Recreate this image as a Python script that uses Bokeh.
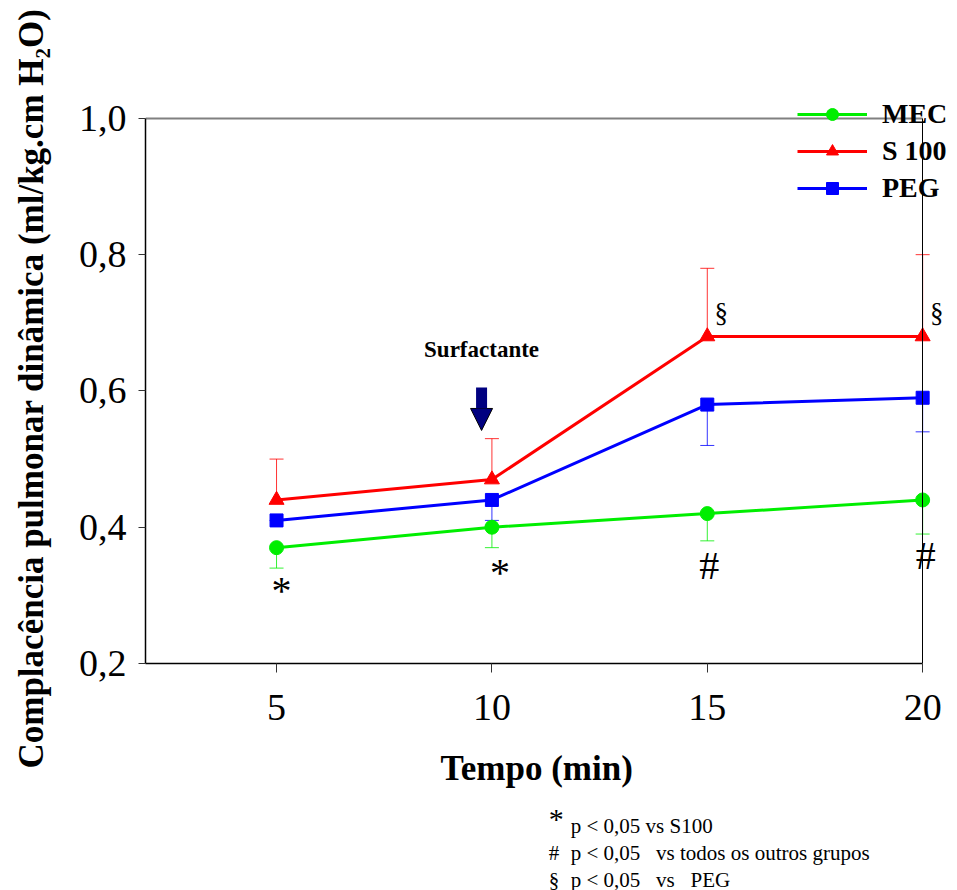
import math
from bokeh.plotting import figure
from bokeh.layouts import column, row
from bokeh.models import (ColumnDataSource, Whisker, TeeHead, Label, Legend,
                          LegendItem, FixedTicker, Arrow, NormalHead, Range1d, LinearAxis)
from bokeh.core.properties import value
from bokeh.embed import file_html
from bokeh.resources import INLINE

# ---- data ----
time = [5, 10, 15, 20]
mec = [0.37, 0.40, 0.42, 0.44]
mec_err = [0.03, 0.03, 0.04, 0.05]      # downward
s100 = [0.44, 0.47, 0.68, 0.68]
s100_err = [0.06, 0.06, 0.10, 0.12]     # upward
peg = [0.41, 0.44, 0.58, 0.59]
peg_err = [0.0, 0.03, 0.06, 0.05]       # downward

x_ticks = [5, 10, 15, 20]
y_ticks = [0.2, 0.4, 0.6, 0.8, 1.0]
y_tick_labels = ["0,2", "0,4", "0,6", "0,8", "1,0"]

sig_x = [5, 10, 15, 20]
sig_y = [0.307, 0.334, 0.344, 0.359]
sig_text = ["*", "*", "#", "#"]
sec_x = [15, 20]
sec_y = [0.714, 0.714]
sec_text = ["§", "§"]

arrow_x = 9.76
arrow_y = [0.605, 0.542]
surf_label_y = 0.661

y_title = "Complacência pulmonar dinâmica (ml/kg.cm H₂O)"
x_title = "Tempo (min)"
xlabel_pos = (11.04, 768)
NB = "\u00a0"
foot_sym = ["*", "#", "§"]
foot_sym_x = [11.32, 11.32, 11.32]
foot_text = ["p < 0,05 vs S100",
             "p < 0,05" + NB + NB + " vs todos os outros grupos",
             "p < 0,05" + NB + NB + " vs" + NB + NB + " PEG"]
foot_x = [11.83, 11.83, 11.83]
foot_y = [825, 852, 879]

FONT = "Liberation Serif"
GREEN = "#00ee00"
RED = "#ff0000"
BLUE = "#0000ff"
X0, X1 = 1.958, 20.6
Y0, Y1 = 0.2, 1.038
LEFTW = 62

# ---- left strip with the y title ----
pl = figure(width=LEFTW, height=890, output_backend="svg", toolbar_location=None,
            x_range=Range1d(0, LEFTW), y_range=Range1d(890, 0),
            min_border_left=0, min_border_right=0, min_border_top=0, min_border_bottom=0)
pl.axis.visible = False
pl.grid.visible = False
pl.outline_line_color = None
pl.add_layout(Label(x=31, y=388, text=y_title, angle=math.pi / 2, text_align="center",
                    text_baseline="middle", text_font=FONT, text_font_size="35px",
                    text_font_style="bold", text_color="black"))

# ---- main plot ----
p = figure(width=950 - LEFTW, height=740, output_backend="svg", toolbar_location=None,
           x_range=Range1d(X0, X1), y_range=Range1d(Y0, Y1),
           min_border_left=145 - LEFTW, min_border_right=2, min_border_top=92,
           min_border_bottom=77)
p.outline_line_color = None
p.xgrid.visible = False
p.ygrid.visible = False

src = ColumnDataSource(dict(
    t=time,
    mec=mec, mec_lo=[m - e for m, e in zip(mec, mec_err)],
    s100=s100, s100_hi=[s + e for s, e in zip(s100, s100_err)],
    peg=peg, peg_lo=[v - e for v, e in zip(peg, peg_err)],
))

# error bars (under the lines)
for lo, hi, col in [("mec_lo", "mec", GREEN), ("s100", "s100_hi", RED), ("peg_lo", "peg", BLUE)]:
    w = Whisker(source=src, base="t", lower=lo, upper=hi, level="underlay",
                line_color=col, line_width=1, line_alpha=0.8)
    if lo.endswith("_lo"):
        w.upper_head = None
        w.lower_head = TeeHead(size=14, line_color=col, line_width=1, line_alpha=0.8)
    else:
        w.lower_head = None
        w.upper_head = TeeHead(size=14, line_color=col, line_width=1, line_alpha=0.8)
    p.add_layout(w)

l_mec = p.line("t", "mec", source=src, line_color=GREEN, line_width=3)
m_mec = p.scatter("t", "mec", source=src, marker="circle", size=14,
                  fill_color=GREEN, line_color=GREEN)
l_s100 = p.line("t", "s100", source=src, line_color=RED, line_width=3)
m_s100 = p.scatter("t", "s100", source=src, marker="triangle", size=15,
                   fill_color=RED, line_color=RED)
l_peg = p.line("t", "peg", source=src, line_color=BLUE, line_width=3)
m_peg = p.scatter("t", "peg", source=src, marker="square", size=13,
                  fill_color=BLUE, line_color=BLUE)

# axes
p.xaxis.ticker = FixedTicker(ticks=x_ticks)
p.yaxis.ticker = FixedTicker(ticks=y_ticks)
p.yaxis.major_label_overrides = {t: l for t, l in zip(y_ticks, y_tick_labels)}
p.xaxis.bounds = (X0, 20)
p.yaxis.bounds = (0.2, 1.0)
for ax in (p.xaxis[0], p.yaxis[0]):
    ax.axis_line_color = "black"
    ax.axis_line_width = 1.5
    ax.major_tick_line_color = "#333333"
    ax.major_tick_out = 9
    ax.major_tick_in = 0
    ax.minor_tick_out = 0
    ax.minor_tick_in = 0
    ax.major_label_text_font = FONT
    ax.major_label_text_font_size = "38px"
    ax.major_label_text_color = "black"
p.yaxis.major_tick_out = 7
p.xaxis.major_label_standoff = 22
p.yaxis.major_label_standoff = 12

# frame top (gray) and right (black) borders
top_ax = LinearAxis(fixed_location=1.0, bounds=(X0 - 0.16, 20), ticker=FixedTicker(ticks=[]),
                    axis_line_color="#808080", axis_line_width=2,
                    major_tick_out=0, major_tick_in=0, minor_tick_out=0, minor_tick_in=0,
                    major_label_text_font_size="0px", major_label_standoff=0,
                    axis_label_standoff=0)
p.add_layout(top_ax, "above")
right_ax = LinearAxis(fixed_location=20, bounds=(0.2, 1.0), ticker=FixedTicker(ticks=[]),
                      axis_line_color="black", axis_line_width=1,
                      major_tick_out=0, major_tick_in=0, minor_tick_out=0, minor_tick_in=0,
                      major_label_text_font_size="0px", major_label_standoff=0,
                      axis_label_standoff=0)
p.add_layout(right_ax, "right")

# significance marks
p.text(x=sig_x, y=sig_y, text=sig_text, text_font=value(FONT), text_font_size="40px",
       text_align="center", text_baseline="middle", text_color="black",
       x_offset=[5, 8, 2, 3])
p.text(x=sec_x, y=sec_y, text=sec_text, text_font=value(FONT), text_font_size="27px",
       text_align="center", text_baseline="middle", text_color="black", x_offset=14)

# surfactant arrow
p.add_layout(Arrow(x_start=arrow_x, y_start=arrow_y[0], x_end=arrow_x, y_end=arrow_y[1],
                   line_color="#000080", line_width=11,
                   end=NormalHead(size=22, fill_color="#000080", line_color="black",
                                  line_width=1)))
p.add_layout(Label(x=arrow_x, y=surf_label_y, text="Surfactante", text_align="center",
                   text_baseline="middle", text_font=FONT, text_font_size="23px",
                   text_font_style="bold", text_color="black"))

# legend
legend = Legend(items=[LegendItem(label="MEC", renderers=[l_mec, m_mec]),
                       LegendItem(label="S 100", renderers=[l_s100, m_s100]),
                       LegendItem(label="PEG", renderers=[l_peg, m_peg])],
                location=(652, 459), margin=0, padding=0, spacing=5,
                glyph_width=70, glyph_height=30, label_height=30, label_standoff=15,
                label_text_font=FONT, label_text_font_style="bold",
                label_text_font_size="28px", label_text_color="black",
                border_line_color=None, background_fill_alpha=0)
p.add_layout(legend)

# ---- lower strip: x-axis title and footnotes ----
p2 = figure(width=950 - LEFTW, height=150, output_backend="svg", toolbar_location=None,
            x_range=p.x_range, y_range=Range1d(890, 740),
            min_border_left=145 - LEFTW, min_border_right=2, min_border_top=0,
            min_border_bottom=0)
p2.axis.visible = False
p2.grid.visible = False
p2.outline_line_color = None
p2.add_layout(Label(x=xlabel_pos[0], y=xlabel_pos[1], text=x_title, text_align="center",
                    text_baseline="middle", text_font=FONT, text_font_size="35px",
                    text_font_style="bold", text_color="black"))
for i, (sx, s, fx, fy, ft) in enumerate(zip(foot_sym_x, foot_sym, foot_x, foot_y, foot_text)):
    p2.add_layout(Label(x=fx, y=fy, text=ft, text_align="left", text_baseline="middle",
                        text_font=FONT, text_font_size="21px", text_color="black"))
    p2.add_layout(Label(x=sx, y=fy - (7 if s == "*" else 0), text=s, text_align="left",
                        text_baseline="middle", text_font=FONT,
                        text_font_size="30px" if s == "*" else "21px", text_color="black"))

layout = row(pl, column(p, p2, spacing=0), spacing=0)
open("out.html", "w").write(file_html(layout, INLINE))
